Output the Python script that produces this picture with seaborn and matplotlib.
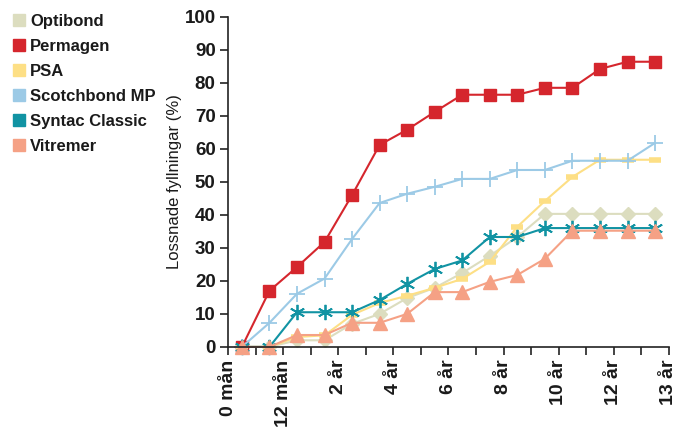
import matplotlib
matplotlib.use('Agg')
import matplotlib.pyplot as plt
from matplotlib.lines import Line2D
import numpy as np
import pandas as pd
import seaborn as sns

sns.set_style('ticks')
plt.rcParams['font.family'] = ['Liberation Sans', 'DejaVu Sans']

tick_labels = ['0 mån', '', '12 mån', '', '2 år', '', '4 år', '', '6 år', '',
               '8 år', '', '10 år', '', '12 år', '', '13 år']
optibond = [0, 0, 2, 2, 7, 10, 14.8, 17.9, 22.4, 27.6, 33.3, 40.3, 40.3, 40.3, 40.3, 40.3]
permagen = [0, 17, 24.2, 31.8, 46, 61.2, 65.8, 71.2, 76.4, 76.4, 76.4, 78.5, 78.5, 84.2, 86.4, 86.4]
psa = [0, 0, 3, 3.5, 9.7, 13.3, 15.5, 17.9, 20.6, 25.8, 36.4, 44.2, 51.5, 56.7, 56.7, 56.7]
scotchbond = [0, 7.3, 16.1, 20.7, 32.7, 43.6, 46.4, 48.5, 50.9, 50.9, 53.6, 53.6, 56.4, 56.4, 56.4, 61.8]
syntac = [0, 0, 10.5, 10.5, 10.5, 14.2, 19.1, 23.6, 26.2, 33.3, 33.3, 36, 36, 36, 36, 36]
vitremer = [0, 0, 3.6, 3.6, 7.3, 7.3, 10, 16.6, 16.6, 19.7, 21.8, 26.7, 35.2, 35.2, 35.2, 35.2]

series = {
    'Optibond': (optibond, '#dcddbf', 'D', 7, 1),
    'Permagen': (permagen, '#d5262d', 's', 8.5, 1),
    'PSA': (psa, '#fddf85', '_', 8, 4),
    'Scotchbond MP': (scotchbond, '#9ccae6', '+', 11, 1.3),
    'Syntac Classic': (syntac, '#1193a3', (6, 2, 0), 11, 1.3),
    'Vitremer': (vitremer, '#f5a185', '^', 10, 1),
}

x = np.arange(len(optibond)) + 0.5

fig = plt.figure(figsize=(6.79, 4.32), dpi=100)
ax = fig.add_axes([0.336, 0.197, 0.649, 0.764])

handles = []
for name, (vals, col, mk, ms, mew) in series.items():
    df = pd.DataFrame({'x': x, 'y': vals})
    sns.lineplot(data=df, x='x', y='y', ax=ax, color=col, linewidth=1.5,
                 marker=mk, markersize=ms, markeredgewidth=mew,
                 markeredgecolor=col, markerfacecolor=col, clip_on=False)
    handles.append(Line2D([], [], linestyle='none', marker='s', markersize=9,
                          color=col, label=name))

ax.set_xlim(0, 16)
ax.set_ylim(0, 100)
ax.set_xticks(np.arange(17))
ax.set_xticklabels(tick_labels, rotation=90, fontsize=14, fontweight='bold')
ax.set_yticks(np.arange(0, 101, 10))
ax.set_yticklabels([str(v) for v in range(0, 101, 10)], fontsize=13.5, fontweight='bold')
ax.tick_params(length=6, width=1.2, color='#222222', labelcolor='#1a1a1a', pad=3)
ax.set_xlabel('')
ax.set_ylabel('Lossnade fyllningar (%)', fontsize=12, labelpad=2, color='#1a1a1a')
for s in ['left', 'bottom']:
    ax.spines[s].set_linewidth(1.2)
    ax.spines[s].set_color('#222222')
sns.despine(ax=ax)

fig.legend(handles=handles, loc='upper left', bbox_to_anchor=(0.003, 0.995),
           frameon=False, handlelength=0.6, handletextpad=0.4,
           labelspacing=0.6, borderaxespad=0.3,
           prop={'size': 12, 'weight': 'bold'}, labelcolor='#1a1a1a')

fig.savefig('out.png', dpi=100)
